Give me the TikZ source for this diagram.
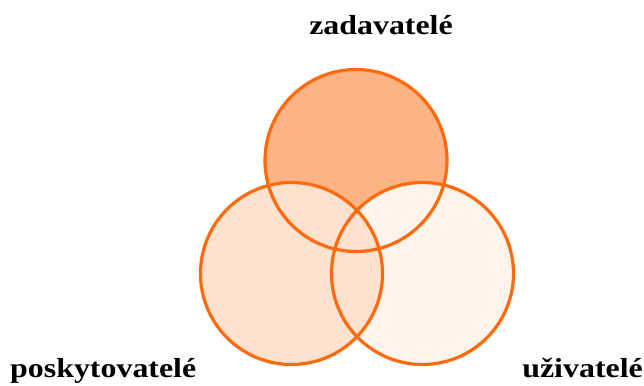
\documentclass[tikz,border=0pt]{standalone}
\usepackage{graphicx}
\usepackage{fontspec}
\setmainfont{Liberation Serif}
\definecolor{ring}{HTML}{FF6A0F}
\definecolor{topfill}{HTML}{FDB383}
\definecolor{leftfill}{HTML}{FEE2CE}
\definecolor{rightfill}{HTML}{FFF4EC}
\newcommand{\widelabel}[1]{\scalebox{1.16}[1]{#1}}
\begin{document}
\begin{tikzpicture}[x=1pt,y=-1pt,
  setcircle/.style={circle,minimum size=182pt,inner sep=0pt,outer sep=0pt},
  ringline/.style={draw=ring,line width=3.2pt},
  lbl/.style={font=\fontsize{27.5}{27.5}\selectfont\bfseries,inner sep=0pt}]
\useasboundingbox (0,0) rectangle (644,385);
% fills
\node[setcircle,fill=topfill] (top) at (356,160.5) {};
\node[setcircle,fill=rightfill] (right) at (422.5,273.5) {};
\node[setcircle,fill=leftfill] (left) at (291.5,273.5) {};
% outlines
\node[setcircle,ringline] at (top) {};
\node[setcircle,ringline] at (right) {};
\node[setcircle,ringline] at (left) {};
% labels
\node[lbl,anchor=base] (zad) at (381,35) {\widelabel{zadavatelé}};
\node[lbl,anchor=base west] (pos) at (10,377) {\widelabel{poskytovatelé}};
\node[lbl,anchor=base east] (uzi) at (643,377) {\widelabel{uživatelé}};
\end{tikzpicture}
\end{document}
